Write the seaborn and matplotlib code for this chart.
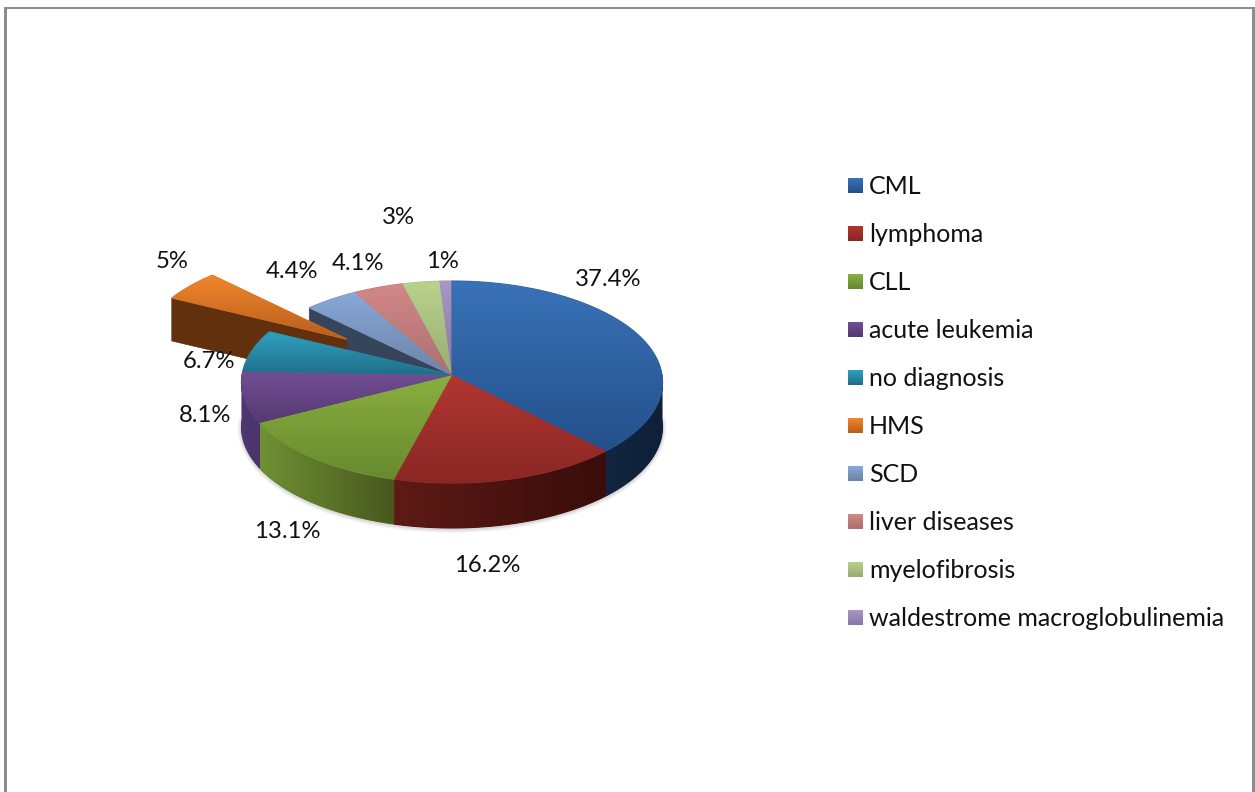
import numpy as np
import pandas as pd
import seaborn as sns
import matplotlib
matplotlib.use("Agg")
import matplotlib.pyplot as plt
from matplotlib.patches import Polygon, Rectangle
from matplotlib.legend_handler import HandlerPatch

# Diagnoses and their share of cases
diagnoses = ["CML", "lymphoma", "CLL", "acute leukemia", "no diagnosis", "HMS",
             "SCD", "liver diseases", "myelofibrosis", "waldestrome macroglobulinemia"]
shares = [37.4, 16.2, 13.1, 8.1, 6.7, 5, 4.4, 4.1, 3, 1]

# Slice colours: lighter and darker end of the top face, then of the rim
top_light = ["#3a72b8", "#b23632", "#8aaf3e", "#724e94", "#2fa0c0", "#f2872a", "#88a8d8", "#d28888", "#b8d28c", "#a896c4"]
top_dark = ["#24508a", "#8a2724", "#688a30", "#553a72", "#1f6f88", "#b85e1e", "#6c84a6", "#ad6f6f", "#98ad74", "#8878a2"]
rim_left = ["#12263f", "#5e1a16", "#6f9034", "#4e3872", "#1c5a70", "#63300e", "#36455c", "#5e3a3a", "#55663a", "#453a55"]
rim_right = ["#0f2038", "#380d0b", "#48581f", "#4a3468", "#1c5a70", "#63300e", "#36455c", "#5e3a3a", "#55663a", "#453a55"]

# Label centres in figure pixels, in slice order
label_x = [608, 487, 287, 205, 209, 172, 292, 358, 398, 442]
label_y = [279, 565, 531, 416, 362, 261, 271, 263, 218, 262]

WIDTH, HEIGHT = 1255, 792
CX, CY = 452, 375
RX, RY = 210, 100.5
PERSPECTIVE = 0.0693
DEPTH = 45
HMS_DEPTH = 43
EXPLODE = {"HMS": 0.63}
FONT = "Lato"
LABEL_SIZE = 17.2
LEGEND_SIZE = 18.0

sns.set_theme(style="white")
plt.rcParams["font.family"] = [FONT, "DejaVu Sans"]

frame = pd.DataFrame({"diagnosis": diagnoses, "share": shares,
                      "light": top_light, "dark": top_dark,
                      "rim_l": rim_left, "rim_r": rim_right})
ends = frame["share"].cumsum() / frame["share"].sum() * 2 * np.pi
frame["start"] = np.r_[0, ends.to_numpy()[:-1]]
frame["end"] = ends.to_numpy()

fig = plt.figure(figsize=(WIDTH / 100, HEIGHT / 100), dpi=100, facecolor="white")
ax = fig.add_axes([0, 0, 1, 1])
ax.set_axis_off()


def project(u, v):
    """Map a point of the unit disc onto the tilted chart plane."""
    w = 1 + PERSPECTIVE * np.asarray(v, float)
    return CX + RX * np.asarray(u, float) / w, CY - RY * np.asarray(v, float) / w


def gradient_fill(points, first, second, z, horizontal=False):
    """Fill a polygon with a linear gradient between two colours."""
    points = np.asarray(points)
    base = sns.blend_palette([first, second], 3)[1]
    patch = Polygon(points, closed=True, facecolor=base, edgecolor=base, lw=0.8, zorder=z)
    ax.add_patch(patch)
    ramp = np.array(sns.blend_palette([first, second], 64))[:, :3]
    ramp = ramp[None, :, :] if horizontal else ramp[:, None, :]
    x0, y0 = points.min(axis=0)
    x1, y1 = points.max(axis=0)
    image = ax.imshow(ramp, extent=(x0, x1, y1, y0), aspect="auto",
                      interpolation="bilinear", zorder=z + 0.1)
    image.set_clip_path(patch)


def slice_offset(row):
    mid = (row.start + row.end) / 2
    e = EXPLODE.get(row.diagnosis, 0)
    return e * np.sin(mid), e * np.cos(mid)


def top_points(row):
    du, dv = slice_offset(row)
    t = np.linspace(row.start, row.end, 80)
    xs, ys = project(du + np.sin(t), dv + np.cos(t))
    ax_, ay_ = project(du, dv)
    return np.vstack([[ax_, ay_], np.column_stack([xs, ys])])


def cut_face(row, angle, colour, z, depth=DEPTH):
    """Flat face exposed along one straight edge of a slice."""
    du, dv = slice_offset(row)
    xa, ya = project(du, dv)
    xb, yb = project(du + np.sin(angle), dv + np.cos(angle))
    pts = [[xa, ya], [xb, yb], [xb, yb + depth], [xa, ya + depth]]
    ax.add_patch(Polygon(pts, closed=True, facecolor=colour, edgecolor=colour, lw=0.5, zorder=z))


def rim(row, z):
    """Outer wall of a slice, shaded from left to right."""
    lo = max(row.start, np.pi / 2)
    hi = min(row.end, 3 * np.pi / 2)
    if hi <= lo or row.diagnosis in EXPLODE:
        return
    t = np.linspace(lo, hi, 80)
    xs, ys = project(np.sin(t), np.cos(t))
    upper = np.column_stack([xs, ys])
    lower = np.column_stack([xs, ys + DEPTH])[::-1]
    gradient_fill(np.vstack([upper, lower]), row.rim_l, row.rim_r, z, horizontal=True)


# Soft shadow along the lower edge of the pie
t_shadow = np.linspace(np.pi / 2, 3 * np.pi / 2, 200)
sx, sy = project(np.sin(t_shadow), np.cos(t_shadow))
for lw, alpha in [(8, 0.05), (5.5, 0.07), (3, 0.10)]:
    ax.plot(sx, sy + DEPTH + 1, color="#555555", lw=lw * 0.72, alpha=alpha, zorder=1,
            solid_capstyle="round")

rows = list(frame.itertuples())
by_name = {r.diagnosis: r for r in rows}

# Back slices first, then the pulled-out slice, then the front of the pie
scd = by_name["SCD"]
cut_face(scd, scd.start, scd.rim_l, 2)
for r in rows[6:]:
    gradient_fill(top_points(r), r.light, r.dark, 3)

hms = by_name["HMS"]
cut_face(hms, hms.start, hms.rim_l, 4, depth=HMS_DEPTH)
gradient_fill(top_points(hms), hms.light, hms.dark, 5)

for r in rows[:6]:
    rim(r, 6)
for r in rows[:5]:
    gradient_fill(top_points(r), r.light, r.dark, 7)

# Percentage labels
for r, lx, ly in zip(rows, label_x, label_y):
    ax.text(lx, ly, f"{r.share:g}%", ha="center", va="center", fontsize=LABEL_SIZE,
            color="#111111", zorder=10)


class RampHandler(HandlerPatch):
    """Legend key shaded from the light to the dark end of its slice colour."""

    def create_artists(self, legend, orig, xd, yd, width, height, fontsize, trans):
        colours = sns.blend_palette([orig.get_facecolor(), orig.get_edgecolor()], 8)
        side = 15 * 0.72
        step = side / 8
        bottom = -yd + (height - side) / 2
        return [Rectangle((-xd, bottom + (7 - i) * step), side, step * 1.05, facecolor=c,
                          edgecolor="none", transform=trans) for i, c in enumerate(colours)]


handles = [Rectangle((0, 0), 1, 1, facecolor=r.light, edgecolor=r.dark) for r in rows]
legend = ax.legend(handles, diagnoses, loc="upper left", bbox_to_anchor=(848, 175),
                   bbox_transform=ax.transData, frameon=False, fontsize=LEGEND_SIZE,
                   borderpad=0, borderaxespad=0, labelspacing=1.0, handlelength=0.6,
                   handleheight=0.6, handletextpad=0.24,
                   handler_map={Rectangle: RampHandler()})
legend.set_zorder(10)
for label in legend.get_texts():
    label.set_color("#111111")

# Grey frame, open along the bottom
frame_colour = "#8c8c8c"
ax.add_patch(Rectangle((4, 7), 3, HEIGHT - 7, facecolor=frame_colour, edgecolor="none", zorder=12))
ax.add_patch(Rectangle((4, 7), WIDTH - 4, 2, facecolor=frame_colour, edgecolor="none", zorder=12))
ax.add_patch(Rectangle((WIDTH - 3, 7), 3, HEIGHT - 7, facecolor=frame_colour, edgecolor="none", zorder=12))

ax.set_xlim(0, WIDTH)
ax.set_ylim(HEIGHT, 0)
fig.savefig("out.png", dpi=100, facecolor="white")
